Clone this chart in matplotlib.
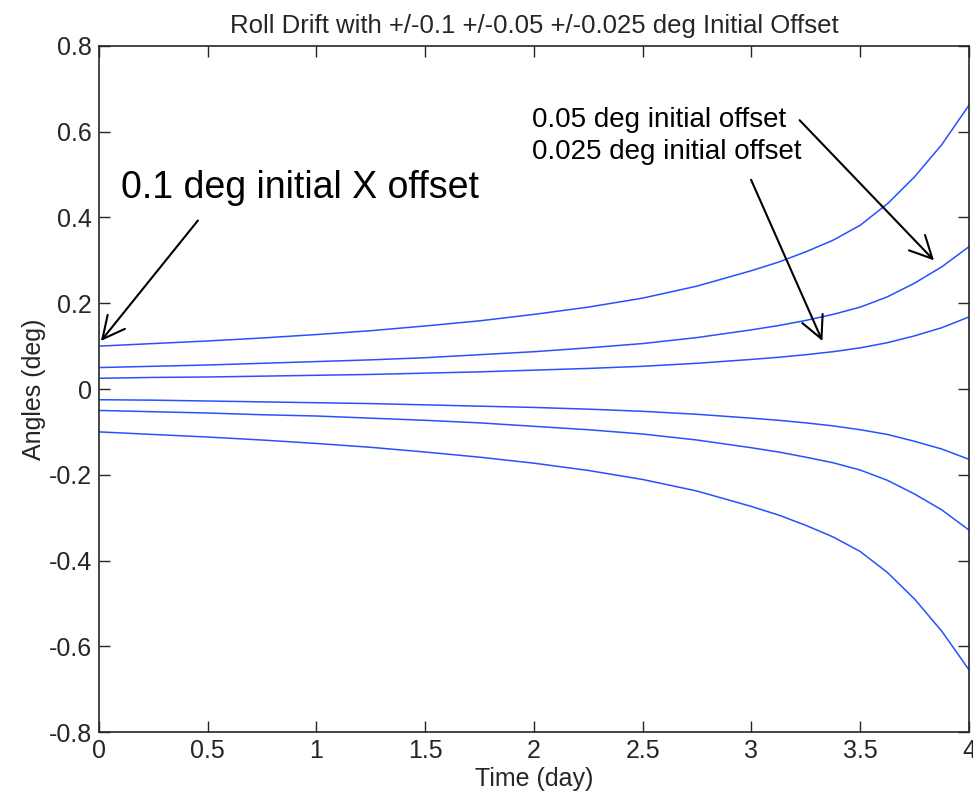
import matplotlib.pyplot as plt

# Time axis (days) and the six drift curves
time_day = [0, 0.25, 0.5, 0.75, 1.0, 1.25, 1.5, 1.75, 2.0, 2.25, 2.5, 2.75,
            3.0, 3.125, 3.25, 3.375, 3.5, 3.625, 3.75, 3.875, 4.0]

pos_100 = [0.100, 0.106, 0.112, 0.119, 0.127, 0.136, 0.147, 0.159, 0.174, 0.191, 0.212,
           0.240, 0.276, 0.296, 0.320, 0.347, 0.382, 0.432, 0.495, 0.570, 0.662]
pos_050 = [0.050, 0.053, 0.056, 0.060, 0.064, 0.068, 0.073, 0.080, 0.087, 0.096, 0.106,
           0.120, 0.138, 0.148, 0.160, 0.174, 0.191, 0.215, 0.247, 0.285, 0.332]
pos_025 = [0.025, 0.027, 0.028, 0.030, 0.032, 0.034, 0.037, 0.040, 0.044, 0.048, 0.053,
           0.060, 0.069, 0.074, 0.080, 0.087, 0.096, 0.108, 0.124, 0.143, 0.168]
neg_025 = [-0.025, -0.026, -0.028, -0.030, -0.032, -0.034, -0.037, -0.040, -0.043, -0.047, -0.052,
           -0.059, -0.068, -0.073, -0.079, -0.086, -0.095, -0.106, -0.122, -0.140, -0.164]
neg_050 = [-0.050, -0.053, -0.056, -0.060, -0.063, -0.068, -0.073, -0.079, -0.087, -0.095, -0.105,
           -0.119, -0.137, -0.147, -0.159, -0.172, -0.189, -0.213, -0.245, -0.282, -0.329]
neg_100 = [-0.100, -0.106, -0.112, -0.119, -0.127, -0.136, -0.147, -0.159, -0.173, -0.190, -0.211,
           -0.238, -0.274, -0.294, -0.318, -0.345, -0.379, -0.428, -0.490, -0.565, -0.655]

x_ticks = [0, 0.5, 1, 1.5, 2, 2.5, 3, 3.5, 4]
x_tick_labels = ['0', '0.5', '1', '1.5', '2', '2.5', '3', '3.5', '4']
y_ticks = [-0.8, -0.6, -0.4, -0.2, 0, 0.2, 0.4, 0.6, 0.8]
y_tick_labels = ['-0.8', '-0.6', '-0.4', '-0.2', '0', '0.2', '0.4', '0.6', '0.8']

plt.rcParams['font.family'] = ['Liberation Sans', 'DejaVu Sans']

fig = plt.figure(figsize=(9.73, 8.01), dpi=100)
ax = fig.add_axes([0.1017, 0.0861, 0.8942, 0.8565])

line_color = '#2850ff'
for series in [pos_100, pos_050, pos_025, neg_025, neg_050, neg_100]:
    ax.plot(time_day, series, color=line_color, linewidth=1.1)

ax.set_xlim(0, 4)
ax.set_ylim(-0.8, 0.8)
ax.set_xticks(x_ticks)
ax.set_xticklabels(x_tick_labels)
ax.set_yticks(y_ticks)
ax.set_yticklabels(y_tick_labels)
ax.tick_params(direction='in', length=8, width=1.0, labelsize=18, pad=5,
               top=True, right=True, colors='#262626')
for sp in ax.spines.values():
    sp.set_linewidth(1.2)
    sp.set_color('#262626')

ax.set_title('Roll Drift with +/-0.1 +/-0.05 +/-0.025 deg Initial Offset',
             fontsize=18.5, pad=9, color='#262626')
ax.set_xlabel('Time (day)', fontsize=18, labelpad=3, color='#262626')
ax.set_ylabel('Angles (deg)', fontsize=18, labelpad=2, color='#262626')

# Annotations
arrow_kw = dict(arrowstyle='->,head_length=0.8,head_width=0.4', color='black',
                lw=1.5, shrinkA=0, shrinkB=0, mutation_scale=20)

ax.text(0.101, 0.469, '0.1 deg initial X offset', fontsize=27, ha='left', va='center')
ax.annotate('', xy=(0.009, 0.112), xytext=(0.455, 0.393), arrowprops=arrow_kw,
            annotation_clip=False)

ax.text(1.992, 0.627, '0.05 deg initial offset', fontsize=20, ha='left', va='center')
ax.text(1.992, 0.553, '0.025 deg initial offset', fontsize=20, ha='left', va='center')
ax.annotate('', xy=(3.839, 0.300), xytext=(3.221, 0.627), arrowprops=arrow_kw)
ax.annotate('', xy=(3.326, 0.112), xytext=(2.998, 0.488), arrowprops=arrow_kw)

fig.savefig('out.png', dpi=100)
